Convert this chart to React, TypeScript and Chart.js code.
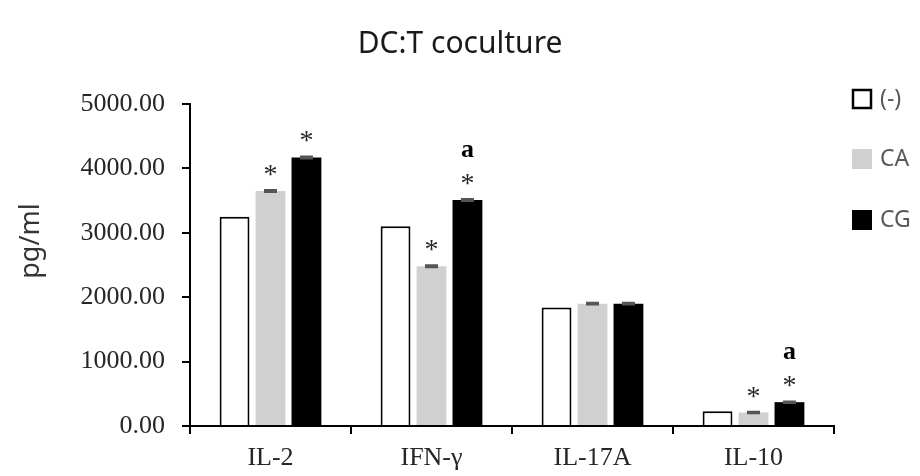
import { useEffect, useRef } from 'react';
import { Chart, registerables } from 'chart.js';

Chart.register(...registerables);

// Cytokine levels measured in the DC:T coculture (pg/ml)
const categories = ['IL-2', 'IFN-γ', 'IL-17A', 'IL-10'];
const seriesNames = ['(-)', 'CA', 'CG'];
const controlValues = [3250, 3100, 1840, 230];
const caValues = [3650, 2480, 1900, 210];
const cgValues = [4170, 3510, 1900, 370];
const caErrors = [15, 15, 15, 12];
const cgErrors = [15, 15, 15, 12];
const caStars = ['*', '*', '', '*'];
const cgStars = ['*', '*', '', '*'];
const cgLetters = ['', 'a', '', 'a'];
const yTickValues = [0, 1000, 2000, 3000, 4000, 5000];

const chartTitle = 'DC:T coculture';
const yAxisTitle = 'pg/ml';

const SERIF = '"Liberation Serif", "Times New Roman", serif';
const SANS = '"Noto Sans", "Open Sans", sans-serif';

// Error caps on top of the bars
const errorBarPlugin = {
  id: 'errorBars',
  afterDatasetsDraw(chart: any) {
    const { ctx } = chart;
    const y = chart.scales.y;
    chart.data.datasets.forEach((ds: any, di: number) => {
      if (!ds.errors) return;
      const meta = chart.getDatasetMeta(di);
      meta.data.forEach((bar: any, i: number) => {
        const v = ds.data[i];
        const e = ds.errors[i];
        const top = y.getPixelForValue(v + e);
        const bot = y.getPixelForValue(v - e);
        ctx.save();
        ctx.strokeStyle = '#555555';
        ctx.lineWidth = 2;
        ctx.beginPath();
        ctx.moveTo(bar.x, top);
        ctx.lineTo(bar.x, bot);
        ctx.moveTo(bar.x - 6.5, top);
        ctx.lineTo(bar.x + 6.5, top);
        ctx.moveTo(bar.x - 6.5, bot);
        ctx.lineTo(bar.x + 6.5, bot);
        ctx.stroke();
        ctx.restore();
      });
    });
  },
};

// Significance marks (* and letters) above the bars
const significancePlugin = {
  id: 'significance',
  afterDatasetsDraw(chart: any) {
    const { ctx } = chart;
    const y = chart.scales.y;
    chart.data.datasets.forEach((ds: any, di: number) => {
      const meta = chart.getDatasetMeta(di);
      meta.data.forEach((bar: any, i: number) => {
        const top = y.getPixelForValue(ds.data[i] + (ds.errors ? ds.errors[i] : 0));
        ctx.save();
        ctx.textAlign = 'center';
        ctx.textBaseline = 'alphabetic';
        if (ds.stars && ds.stars[i]) {
          ctx.fillStyle = '#262626';
          ctx.font = `28px ${SERIF}`;
          ctx.fillText(ds.stars[i], bar.x, top - 7);
        }
        if (ds.letters && ds.letters[i]) {
          ctx.fillStyle = '#000000';
          ctx.font = `bold 26px ${SERIF}`;
          ctx.fillText(ds.letters[i], bar.x, top - 42);
        }
        ctx.restore();
      });
    });
  },
};

// Title, rotated axis title and the legend column on the right
const frameTextPlugin = {
  id: 'frameText',
  afterDraw(chart: any) {
    const { ctx } = chart;
    ctx.save();
    ctx.fillStyle = '#1a1a1a';
    ctx.font = `30px ${SANS}`;
    ctx.textAlign = 'center';
    ctx.textBaseline = 'alphabetic';
    ctx.fillText(chartTitle, 460, 53);

    ctx.save();
    ctx.translate(39, 241);
    ctx.rotate(-Math.PI / 2);
    ctx.fillStyle = '#333333';
    ctx.font = `27px ${SANS}`;
    ctx.textBaseline = 'alphabetic';
    ctx.fillText(yAxisTitle, 0, 0);
    ctx.restore();

    const rows = [99, 159, 220];
    chart.data.datasets.forEach((ds: any, i: number) => {
      const cy = rows[i];
      const size = 20;
      ctx.fillStyle = ds.backgroundColor;
      ctx.fillRect(852, cy - size / 2, size, size);
      if (ds.borderWidth) {
        ctx.strokeStyle = ds.borderColor;
        ctx.lineWidth = 2.5;
        ctx.strokeRect(853, cy - size / 2 + 1, size - 2, size - 2);
      }
      ctx.fillStyle = '#595959';
      ctx.font = `23px ${SANS}`;
      ctx.textAlign = 'left';
      ctx.textBaseline = 'middle';
      ctx.fillText(ds.label, 880, cy);
    });
    ctx.restore();
  },
};

export default function App() {
  const canvasRef = useRef<HTMLCanvasElement | null>(null);

  useEffect(() => {
    document.body.style.margin = '0';
    const canvas = canvasRef.current;
    if (!canvas) return;

    const chart = new Chart(canvas, {
      type: 'bar',
      data: {
        labels: categories,
        datasets: [
          {
            label: seriesNames[0],
            data: controlValues,
            backgroundColor: '#ffffff',
            borderColor: '#000000',
            borderWidth: 2,
          },
          {
            label: seriesNames[1],
            data: caValues,
            backgroundColor: '#d0d0d0',
            borderWidth: 0,
            errors: caErrors,
            stars: caStars,
          } as any,
          {
            label: seriesNames[2],
            data: cgValues,
            backgroundColor: '#000000',
            borderWidth: 0,
            errors: cgErrors,
            stars: cgStars,
            letters: cgLetters,
          } as any,
        ],
      },
      options: {
        animation: false,
        responsive: false,
        maintainAspectRatio: false,
        layout: { padding: { top: 104, right: 86, bottom: 0, left: 0 } },
        datasets: {
          bar: { categoryPercentage: 0.67, barPercentage: 0.83 },
        },
        plugins: {
          legend: { display: false },
          title: { display: false },
          tooltip: { enabled: false },
        },
        scales: {
          x: {
            grid: {
              offset: true,
              drawOnChartArea: false,
              drawTicks: true,
              tickLength: 8,
              color: '#000000',
              lineWidth: 2,
            },
            border: { color: '#000000', width: 2 },
            ticks: {
              font: { family: SERIF, size: 26 },
              color: '#262626',
              padding: 9,
            },
            afterFit: (s: any) => {
              s.height = 50;
            },
          },
          y: {
            min: 0,
            max: 5000,
            afterBuildTicks: (s: any) => {
              s.ticks = yTickValues.map((v) => ({ value: v }));
            },
            grid: {
              drawOnChartArea: false,
              drawTicks: true,
              tickLength: 8,
              color: '#000000',
              lineWidth: 2,
            },
            border: { color: '#000000', width: 2 },
            ticks: {
              font: { family: SERIF, size: 26 },
              color: '#262626',
              padding: 17,
              callback: (v: any) => Number(v).toFixed(2),
            },
            afterFit: (s: any) => {
              s.width = 190;
            },
          },
        },
      },
      plugins: [errorBarPlugin, significancePlugin, frameTextPlugin],
    });

    return () => chart.destroy();
  }, []);

  return (
    <div style={{ width: 920, height: 476, background: '#ffffff' }}>
      <canvas ref={canvasRef} width={920} height={476} style={{ display: 'block' }} />
    </div>
  );
}
